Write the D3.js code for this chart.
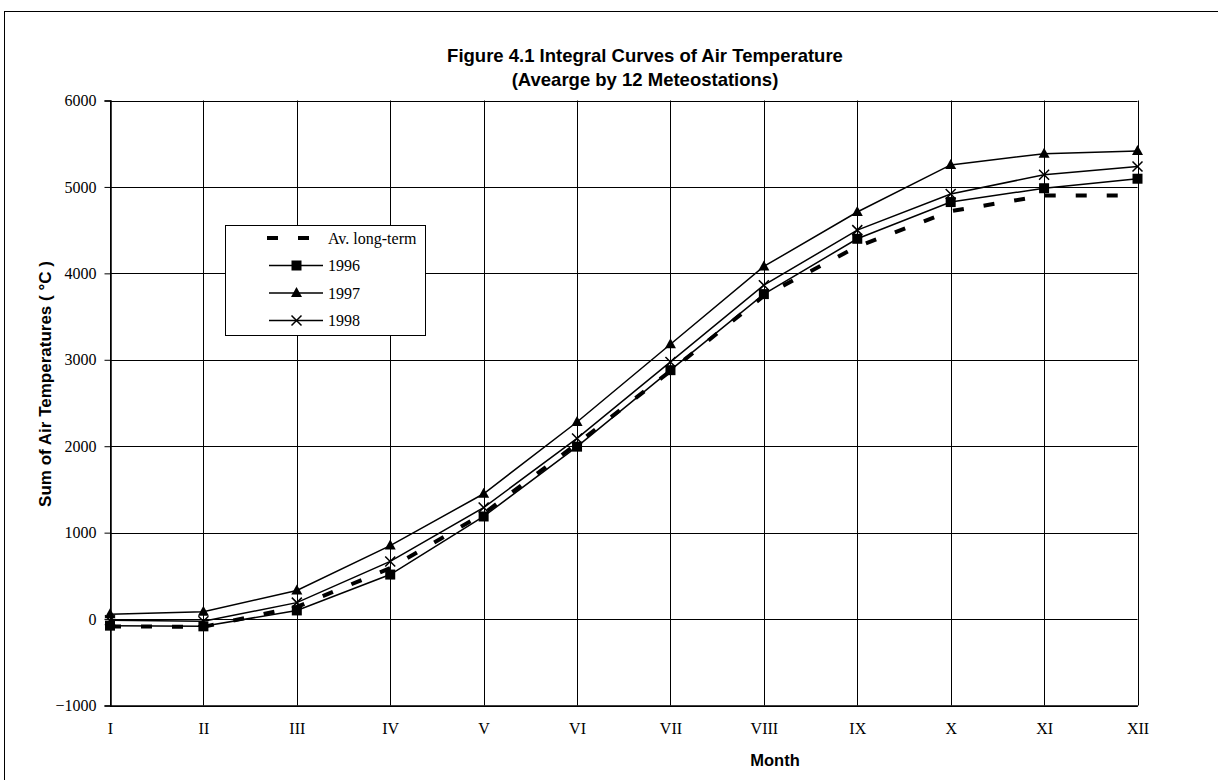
<!DOCTYPE html>
<html>
<head>
<meta charset="utf-8">
<script src="https://cdn.jsdelivr.net/npm/d3@7/dist/d3.min.js"></script>
<style>
  html, body { margin: 0; padding: 0; background: #fff; }
  svg { display: block; }
</style>
</head>
<body>
<svg id="chart" width="1218" height="780"></svg>
<script>
const months = ["I","II","III","IV","V","VI","VII","VIII","IX","X","XI","XII"];
const avLongTerm = [-85, -90, 140, 590, 1220, 2030, 2870, 3740, 4310, 4720, 4900, 4900];
const y1996 = [-76, -84, 100, 515, 1187, 1995, 2880, 3760, 4400, 4825, 4985, 5095];
const y1997 = [55, 85, 330, 850, 1450, 2280, 3180, 4080, 4710, 5255, 5385, 5415];
const y1998 = [-15, -25, 190, 667, 1290, 2090, 2975, 3863, 4500, 4918, 5141, 5237];
const yTicks = [-1000, 0, 1000, 2000, 3000, 4000, 5000, 6000];

(function () {
const svg = d3.select("#chart");
const pL = 110, pR = 1137.5, pT = 100.5, pB = 705.5;
const serif = "'Liberation Serif', 'Times New Roman', serif";
const sans = "'Liberation Sans', Arial, sans-serif";

// outer frame
svg.append("rect").attr("x", 4.5).attr("y", 11.5).attr("width", 1400).attr("height", 900)
  .attr("fill", "none").attr("stroke", "#000").attr("stroke-width", 1);

const x = d3.scalePoint().domain(months).range([pL, pR]);
const y = d3.scaleLinear().domain([-1000, 6000]).range([pB, pT]);

// grid
const g = svg.append("g");
g.selectAll("line.h").data(yTicks).join("line")
  .attr("x1", pL).attr("x2", pR)
  .attr("y1", d => Math.round(y(d)) + 0.5).attr("y2", d => Math.round(y(d)) + 0.5)
  .attr("stroke", "#000").attr("stroke-width", 1);
g.selectAll("line.v").data(months).join("line")
  .attr("x1", d => Math.round(x(d)) + 0.5).attr("x2", d => Math.round(x(d)) + 0.5)
  .attr("y1", pT).attr("y2", pB)
  .attr("stroke", "#000").attr("stroke-width", 1);

// y axis
const yAxis = d3.axisLeft(y).tickValues(yTicks).tickSize(6).tickPadding(8).tickFormat(d3.format("d"));
const ya = svg.append("g").attr("transform", `translate(${pL + 0.5},0)`).call(yAxis);
ya.select(".domain").attr("stroke", "#000").attr("stroke-width", 1.5);
ya.selectAll("text").attr("font-family", serif).attr("font-size", 16).attr("fill", "#000");

// x axis (labels only)
const xAxis = d3.axisBottom(x).tickSize(0).tickPadding(17);
const xa = svg.append("g").attr("transform", `translate(0,${pB})`).call(xAxis);
xa.select(".domain").attr("stroke", "#000").attr("stroke-width", 1.5);
xa.selectAll("text").attr("font-family", serif).attr("font-size", 16).attr("fill", "#000");

// lines
const line = d3.line().x((d, i) => x(months[i])).y(d => y(d));
svg.append("path").datum(avLongTerm).attr("d", line).attr("fill", "none")
  .attr("stroke", "#000").attr("stroke-width", 4).attr("stroke-dasharray", "11,20");

const series = [
  {name: "1996", data: y1996, marker: "square"},
  {name: "1997", data: y1997, marker: "triangle"},
  {name: "1998", data: y1998, marker: "cross"}
];

function drawMarker(sel, type, cx, cy) {
  if (type === "square") {
    sel.append("rect").attr("x", cx - 5).attr("y", cy - 5).attr("width", 10).attr("height", 10).attr("fill", "#000");
  } else if (type === "triangle") {
    sel.append("path").attr("d", `M${cx},${cy - 6}L${cx + 5.5},${cy + 4}L${cx - 5.5},${cy + 4}Z`).attr("fill", "#000");
  } else {
    sel.append("path").attr("d", `M${cx - 5},${cy - 5}L${cx + 5},${cy + 5}M${cx - 5},${cy + 5}L${cx + 5},${cy - 5}`)
      .attr("stroke", "#000").attr("stroke-width", 1.5).attr("fill", "none");
  }
}

series.forEach(s => {
  svg.append("path").datum(s.data).attr("d", line).attr("fill", "none")
    .attr("stroke", "#000").attr("stroke-width", 1.5);
  const mg = svg.append("g");
  s.data.forEach((v, i) => drawMarker(mg, s.marker, x(months[i]), y(v)));
});

// legend
const lg = svg.append("g");
const lx = 225.5, ly = 225.5, lw = 200, lh = 110;
lg.append("rect").attr("x", lx).attr("y", ly).attr("width", lw).attr("height", lh)
  .attr("fill", "#fff").attr("stroke", "#000").attr("stroke-width", 1);
const legendItems = [{name: "Av. long-term", marker: "dash"}].concat(series);
legendItems.forEach((it, i) => {
  const cy = 238 + i * 27.5;
  if (it.marker === "dash") {
    lg.append("line").attr("x1", 267).attr("x2", 323).attr("y1", cy).attr("y2", cy)
      .attr("stroke", "#000").attr("stroke-width", 4).attr("stroke-dasharray", "11,20");
  } else {
    lg.append("line").attr("x1", 269).attr("x2", 323).attr("y1", cy).attr("y2", cy)
      .attr("stroke", "#000").attr("stroke-width", 1.5);
    drawMarker(lg, it.marker, 296.5, cy);
  }
  lg.append("text").attr("x", 328).attr("y", cy).attr("dy", "0.35em")
    .attr("font-family", serif).attr("font-size", 16)
    .text(it.name);
});

// titles
const title = svg.append("text").attr("text-anchor", "middle")
  .attr("font-family", sans).attr("font-weight", "bold").attr("font-size", 18.5);
title.append("tspan").attr("x", 645).attr("y", 62).text("Figure 4.1 Integral Curves of Air Temperature");
title.append("tspan").attr("x", 645).attr("y", 86).text("(Avearge by 12 Meteostations)");

svg.append("text").attr("x", 775).attr("y", 766).attr("text-anchor", "middle")
  .attr("font-family", sans).attr("font-weight", "bold").attr("font-size", 16.5)
  .text("Month");

svg.append("text").attr("transform", "translate(51,384) rotate(-90)").attr("text-anchor", "middle")
  .attr("font-family", sans).attr("font-weight", "bold").attr("font-size", 17)
  .text("Sum of Air Temperatures ( °C )");
})();
</script>
</body>
</html>
